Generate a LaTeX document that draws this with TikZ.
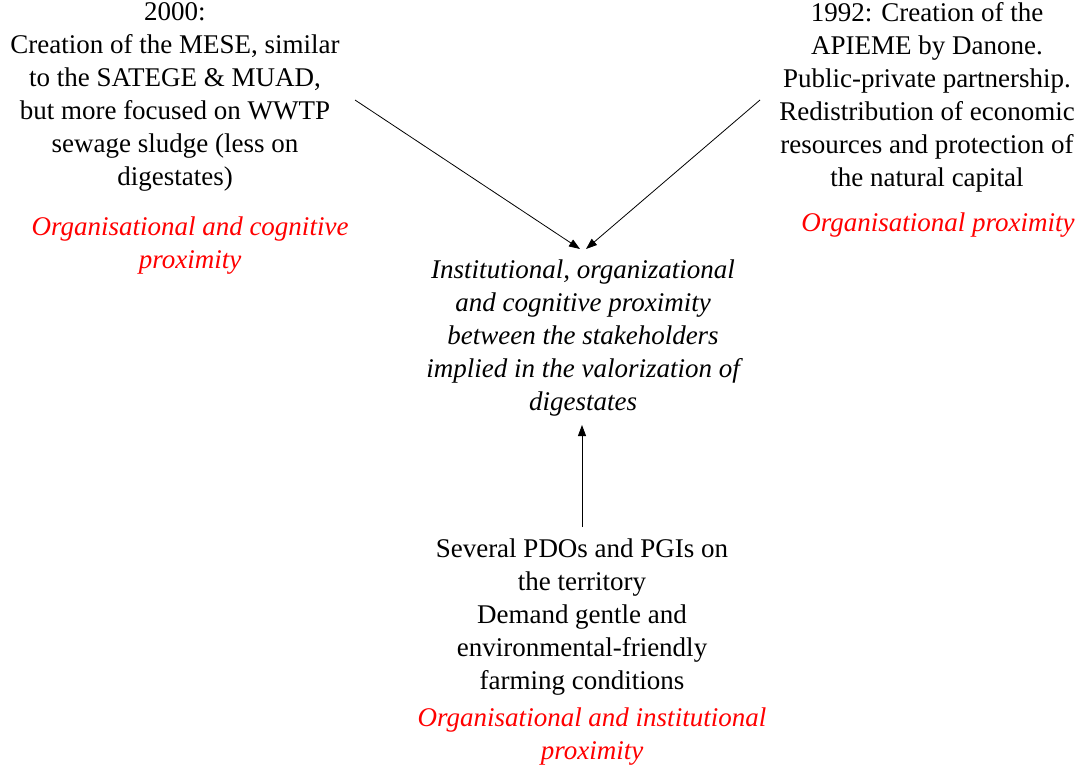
\documentclass[tikz,border=0pt]{standalone}
\usepackage{fontspec}
\setmainfont{Liberation Serif}
\newfontfamily\timesf{Liberation Serif}
\usetikzlibrary{arrows.meta}
\begin{document}
\begin{tikzpicture}[x=1pt,y=-1pt,
  txt/.style={align=center,inner sep=0pt,font=\timesf\fontsize{27}{33}\selectfont},
  redtxt/.style={txt,text=red,font=\timesf\fontsize{27}{33}\selectfont\itshape},
  ctr/.style={txt,font=\timesf\fontsize{27}{33}\selectfont\itshape},
  arr/.style={-{Triangle[length=11pt,width=8pt]},line width=0.8pt}]
\useasboundingbox (0,0) rectangle (1081,768);
\node[txt] (left) at (175,97) {2000:\\Creation of the MESE, similar\\to the SATEGE \& MUAD,\\but more focused on WWTP\\sewage sludge (less on\\digestates)};
\node[redtxt] (leftred) at (190,246) {Organisational and cognitive\\proximity};
\node[txt] (right) at (927,97) {1992: Creation of the\\APIEME by Danone.\\Public-private partnership.\\Redistribution of economic\\resources and protection of\\the natural capital};
\node[redtxt] (rightred) at (938,225) {Organisational proximity};
\node[ctr] (center) at (583,338) {Institutional, organizational\\and cognitive proximity\\between the stakeholders\\implied in the valorization of\\digestates};
\node[txt] (bottom) at (582,617) {Several PDOs and PGIs on\\the territory\\Demand gentle and\\environmental-friendly\\farming conditions};
\node[redtxt] (bottomred) at (592,737) {Organisational and institutional\\proximity};
\coordinate (lstart) at (355,100);
\coordinate (rstart) at (760,100);
\coordinate (lend) at (580,249);
\coordinate (rend) at (586,249);
\coordinate (ustart) at (582,527);
\coordinate (uend) at (582,425);
\draw[arr] (lstart) -- (lend);
\draw[arr] (rstart) -- (rend);
\draw[arr] (ustart) -- (uend);
\end{tikzpicture}
\end{document}
